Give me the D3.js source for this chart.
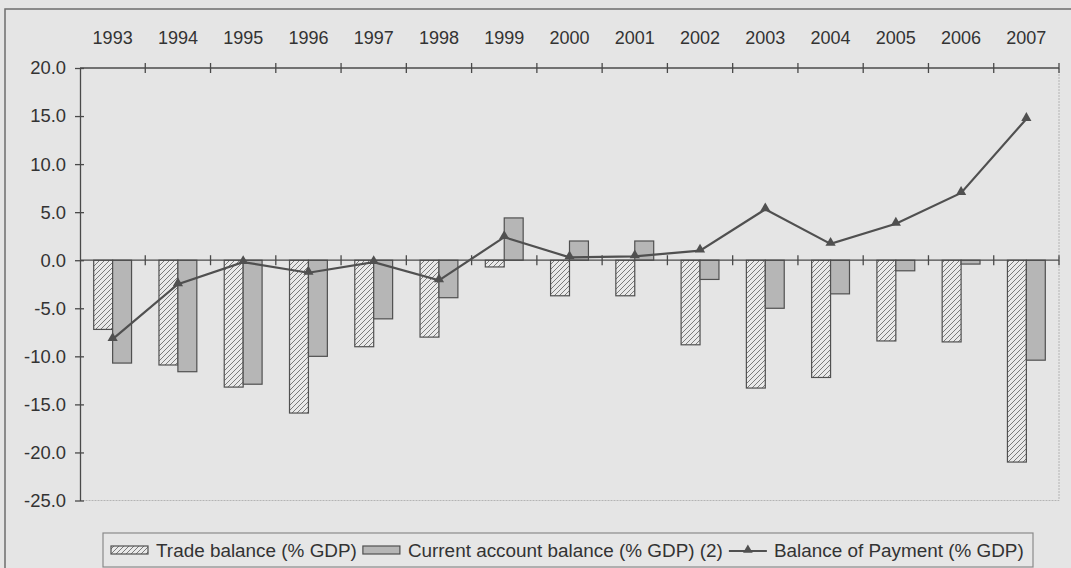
<!DOCTYPE html>
<html>
<head>
<meta charset="utf-8">
<script src="https://cdn.jsdelivr.net/npm/d3@7"></script>
<style>
  html, body { margin: 0; padding: 0; background: #e5e5e5; }
  svg { display: block; }
  text { font-family: "Liberation Sans", Arial, sans-serif; fill: #333; }
</style>
</head>
<body>
<svg id="chart" width="1071" height="568"></svg>
<script>
// Categories and series (% of GDP)
const years = ["1993","1994","1995","1996","1997","1998","1999","2000","2001","2002","2003","2004","2005","2006","2007"];
const tradeBalance   = [-7.2, -10.9, -13.2, -15.9, -9.0, -8.0, -0.7, -3.7, -3.7, -8.8, -13.3, -12.2, -8.4, -8.5, -21.0];
const currentAccount = [-10.7, -11.6, -12.9, -10.0, -6.1, -3.9, 4.4, 2.0, 2.0, -2.0, -5.0, -3.5, -1.1, -0.4, -10.4];
const balancePayment = [-8.2, -2.5, -0.2, -1.3, -0.2, -2.1, 2.4, 0.3, 0.4, 1.0, 5.3, 1.7, 3.8, 7.0, 14.7];
const yTicks = [20, 15, 10, 5, 0, -5, -10, -15, -20, -25];
const legendLabels = ["Trade balance (% GDP)", "Current account balance (% GDP) (2)", "Balance of Payment (% GDP)"];

const svg = d3.select("#chart");
const ink = "#4a4a4a";

const plot = { left: 80, right: 1059, top: 68, bottom: 500.5 };

const x = d3.scaleBand().domain(years).range([plot.left, plot.right]).padding(0);
const y = d3.scaleLinear().domain([-25, 20]).range([plot.bottom, plot.top]);
const barW = x.bandwidth() * 0.29;
const inner = d3.scaleBand().domain(["trade", "ca"]).range([-barW, barW]);

// tick labels use a plain hyphen for negatives, one decimal place
const fmt = v => v.toFixed(1);

// hatch pattern for the trade balance bars
const defs = svg.append("defs");
const hatch = defs.append("pattern")
  .attr("id", "hatch").attr("patternUnits", "userSpaceOnUse")
  .attr("width", 5).attr("height", 5);
hatch.append("rect").attr("width", 5).attr("height", 5).attr("fill", "#e9e9e9");
hatch.append("path").attr("d", "M-1,1 l2,-2 M0,5 l5,-5 M4,6 l2,-2")
  .attr("stroke", "#7a7a7a").attr("stroke-width", 1);

// outer chart frame
svg.append("rect").attr("x", 5).attr("y", 9).attr("width", 1080).attr("height", 580)
  .attr("fill", "none").attr("stroke", "#6e6e6e").attr("stroke-width", 1.5);

// plot area border (right and bottom, light dotted)
svg.append("path")
  .attr("d", `M${plot.right},${plot.top} V${plot.bottom} H${plot.left}`)
  .attr("fill", "none").attr("stroke", "#b4b4b4").attr("stroke-width", 1)
  .attr("stroke-dasharray", "2,1");

// bars
const rows = years.map((yr, i) => ({ yr, trade: tradeBalance[i], ca: currentAccount[i] }));
const bars = svg.append("g");
rows.forEach(r => {
  const cx = x(r.yr) + x.bandwidth() / 2;
  [["trade", "url(#hatch)"], ["ca", "#b6b6b6"]].forEach(([key, fill]) => {
    const v = r[key];
    bars.append("rect")
      .attr("x", cx + inner(key))
      .attr("y", y(Math.max(0, v)))
      .attr("width", inner.bandwidth())
      .attr("height", Math.abs(y(v) - y(0)))
      .attr("fill", fill)
      .attr("stroke", "#505050").attr("stroke-width", 1.2);
  });
});

// horizontal axis lines with category tick marks (top edge and zero line)
const boundaries = years.map(yr => x(yr) + x.bandwidth());
[20, 0].forEach(v => {
  const g = svg.append("g");
  g.append("line").attr("x1", plot.left).attr("x2", plot.right)
    .attr("y1", y(v)).attr("y2", y(v)).attr("stroke", ink).attr("stroke-width", 1.3);
  g.selectAll("line.t").data(boundaries).join("line").attr("class", "t")
    .attr("x1", d => d).attr("x2", d => d)
    .attr("y1", y(v) - 5).attr("y2", y(v) + 5)
    .attr("stroke", ink).attr("stroke-width", 1.3);
});

// vertical axis
const yAxis = svg.append("g").attr("transform", `translate(${plot.left},0)`)
  .call(d3.axisLeft(y).tickValues(yTicks).tickSize(0).tickPadding(14).tickFormat(fmt));
yAxis.select(".domain").attr("stroke", ink).attr("stroke-width", 1.3);
yAxis.selectAll(".tick text").style("font-size", "18.4px").attr("fill", "#333");
yAxis.selectAll(".tick").append("line").attr("x1", -5).attr("x2", 4)
  .attr("stroke", ink).attr("stroke-width", 1.3);

// year labels above the plot
svg.append("g").selectAll("text").data(years).join("text")
  .attr("x", d => x(d) + x.bandwidth() / 2).attr("y", 44)
  .attr("text-anchor", "middle").style("font-size", "18px").text(d => d);

// balance of payment line with triangle markers
const pts = years.map((yr, i) => [x(yr) + x.bandwidth() / 2, y(balancePayment[i])]);
svg.append("path").attr("d", d3.line()(pts))
  .attr("fill", "none").attr("stroke", "#505050").attr("stroke-width", 2.2);
svg.append("g").selectAll("path").data(pts).join("path")
  .attr("transform", d => `translate(${d[0]},${d[1] - 1})`)
  .attr("d", d3.symbol(d3.symbolTriangle, 45))
  .attr("fill", "#505050");

// legend
const lg = svg.append("g");
lg.append("rect").attr("x", 103).attr("y", 533).attr("width", 930).attr("height", 34)
  .attr("fill", "#e6e6e6").attr("stroke", "#8a8a8a").attr("stroke-width", 1.2);
let lx = 111;
const ly = 550;
legendLabels.forEach((label, i) => {
  if (i < 2) {
    lg.append("rect").attr("x", lx).attr("y", ly - 4).attr("width", 37).attr("height", 8)
      .attr("fill", i === 0 ? "url(#hatch)" : "#b6b6b6")
      .attr("stroke", "#505050").attr("stroke-width", 1.2);
  } else {
    lg.append("line").attr("x1", lx).attr("x2", lx + 38).attr("y1", ly + 1).attr("y2", ly + 1)
      .attr("stroke", "#505050").attr("stroke-width", 2);
    lg.append("path").attr("transform", `translate(${lx + 19},${ly})`)
      .attr("d", d3.symbol(d3.symbolTriangle, 40)).attr("fill", "#505050");
  }
  const t = lg.append("text").attr("x", lx + 45).attr("y", ly + 6.5)
    .style("font-size", "18.9px").text(label);
  lx = lx + 45 + t.node().getComputedTextLength() + 6;
});
</script>
</body>
</html>
